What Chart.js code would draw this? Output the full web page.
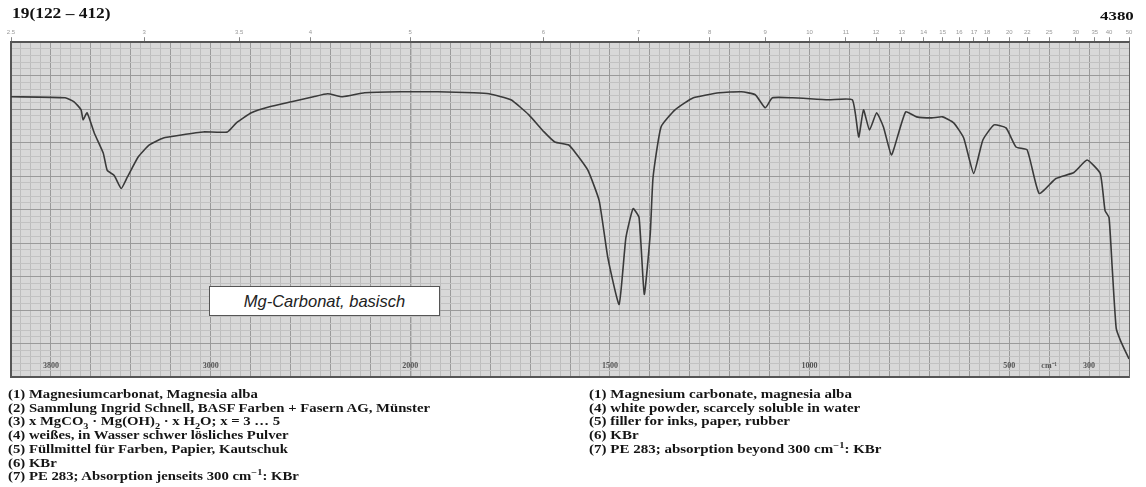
<!DOCTYPE html>
<html>
<head>
<meta charset="utf-8">
<script src="https://cdn.jsdelivr.net/npm/chart.js@4/dist/chart.umd.min.js"></script>
<style>
  html, body { margin:0; padding:0; background:#fff; width:1146px; height:487px; overflow:hidden; }
  #wrap { position:relative; width:1146px; height:487px; }
  #c { position:absolute; left:0; top:0; }
  .hdr { position:absolute; font-family:"Liberation Serif", serif; font-weight:bold; color:#111; transform-origin:0 0; white-space:nowrap; }
  .desc { position:absolute; font-family:"Liberation Serif", serif; font-weight:bold; font-size:12.5px; line-height:13.7px; color:#151515; white-space:nowrap; transform-origin:0 0; transform:scaleX(1.18); }
  .desc sub, .desc sup { font-size:70%; line-height:0; }
  #label { position:absolute; left:209px; top:286px; width:231px; height:30px; background:#fff; border:1px solid #555; box-sizing:border-box;
           font-family:"Liberation Sans", sans-serif; font-style:italic; font-size:16.5px; color:#222; text-align:center; line-height:28px; }
</style>
</head>
<body>
<div id="wrap">
  <canvas id="c" width="1146" height="487"></canvas>
  <div class="hdr" style="left:12px; top:5px; font-size:14.5px; transform:scaleX(1.2);">19(122 – 412)</div>
  <div class="hdr" style="left:1100px; top:8px; font-size:13.5px; transform:scaleX(1.25);">4380</div>
  <div id="label">Mg-Carbonat, basisch</div>
  <div class="desc" style="left:8px; top:388px;">
    (1) Magnesiumcarbonat, Magnesia alba<br>
    (2) Sammlung Ingrid Schnell, BASF Farben + Fasern AG, Münster<br>
    (3) x MgCO<sub>3</sub> · Mg(OH)<sub>2</sub> · x H<sub>2</sub>O; x = 3 … 5<br>
    (4) weißes, in Wasser schwer lösliches Pulver<br>
    (5) Füllmittel für Farben, Papier, Kautschuk<br>
    (6) KBr<br>
    (7) PE 283; Absorption jenseits 300 cm<sup>−1</sup>: KBr
  </div>
  <div class="desc" style="left:589px; top:388px; transform:scaleX(1.2);">
    (1) Magnesium carbonate, magnesia alba<br>
    (4) white powder, scarcely soluble in water<br>
    (5) filler for inks, paper, rubber<br>
    (6) KBr<br>
    (7) PE 283; absorption beyond 300 cm<sup>−1</sup>: KBr
  </div>
</div>
<script>
// ---- data (wavenumber cm^-1, % transmittance) ----
const wavenumbers = [4000,3729,3684,3649,3639,3619,3583,3538,3518,3483,3448,3418,3363,3307,3237,3147,3037,2916,2871,2796,2705,2595,2485,2414,2339,2229,2048,
  1931,1841,1803,1748,1703,1665,1638,1603,1582,1555,1527,1505,1477,1460,1442,1427,1414,1399,1392,1372,1337,1291,1226,1171,1136,1111,1093,1043,953,893,877,865,850,832,815,795,777,759,732,694,667,639,614,589,566,538,508,483,455,425,383,338,305,272,260,250,242,232,220,200];
const transmittance = [83.7,83.4,82.2,79.8,76.8,78.9,72.9,66.9,61.7,60.2,56.3,59.6,65.7,69.3,71.4,72.3,73.2,73.2,75.9,78.9,80.7,82.2,83.7,84.6,83.7,84.9,85.2,
  85.2,84.9,84.6,82.8,78.3,73.2,70.2,69.3,66.3,61.7,52.7,35.5,21.7,41.6,50.3,47.6,24.7,42.8,59.6,74.7,79.8,83.4,84.9,85.2,84.3,80.4,83.4,83.4,82.8,82.8,71.7,79.8,73.8,78.9,74.7,66.3,72.9,79.2,77.7,77.4,77.7,75.9,71.4,60.8,70.8,75.3,74.4,68.7,67.8,54.8,59.3,61.1,64.8,60.8,49.7,47.6,32.5,14.5,10.5,5.4];
// bottom axis labels
const bottomTickValues = [3800,3000,2000,1500,1000,500,400,300];
const bottomTickLabels = ['3800','3000','2000','1500','1000','500','cm⁻¹','300'];
// top axis: wavelength in micrometres
const micronTicks = [2.5,3,3.5,4,5,6,7,8,9,10,11,12,13,14,15,16,17,18,20,22,25,30,35,40,50];

// ---- custom piecewise wavenumber scale (scale change at 2000 cm^-1) ----
const SPAN = (4000-2000) + 2*(2000-200);
function wnToDecimal(v){ return v >= 2000 ? (4000 - v)/SPAN : (2000 + 2*(2000 - v))/SPAN; }
class IRScale extends Chart.LinearScale {
  getPixelForValue(v){ return this.getPixelForDecimal(wnToDecimal(v)); }
  getValueForPixel(p){ const d = this.getDecimalForPixel(p)*SPAN; return d <= 2000 ? 4000 - d : 2000 - (d-2000)/2; }
  buildTicks(){ return (this.options.tickValues || []).map(v => ({value:v})); }
}
IRScale.id = 'irscale';
IRScale.defaults = Chart.LinearScale.defaults;
Chart.register(IRScale);

const gridValues = [];
for (let v = 4000; v >= 2000; v -= 50) gridValues.push(v);
for (let v = 1975; v >= 200; v -= 25) gridValues.push(v);
function isMajor(v){ return v >= 2000 ? v % 200 === 0 : v % 100 === 0; }

const bgPlugin = {
  id:'bg',
  beforeDraw(chart){
    const {ctx, chartArea:a} = chart;
    ctx.save(); ctx.fillStyle = '#d8d8d8'; ctx.fillRect(a.left, a.top, a.right-a.left, a.bottom-a.top); ctx.restore();
  }
};

new Chart(document.getElementById('c'), {
  type:'line',
  data:{ datasets:[{
    data: wavenumbers.map((w,i)=>({x:w, y:transmittance[i]})),
    borderColor:'#3a3a3a', borderWidth:1.6, pointRadius:0, tension:0.15, fill:false
  }]},
  options:{
    responsive:false, animation:false, devicePixelRatio:1,
    layout:{ padding:{ left:11, right:17, top:28, bottom:110 } },
    plugins:{ legend:{display:false}, tooltip:{enabled:false} },
    scales:{
      x:{ type:'irscale', position:'bottom', min:200, max:4000, tickValues:gridValues,
          grid:{ drawTicks:false, color:c => isMajor(c.tick.value) ? '#9a9a9a' : '#bdbdbd', lineWidth:c => c.tick.value===2000 ? 1.4 : 1 },
          border:{ color:'#555', width:2 },
          ticks:{ autoSkip:false, maxRotation:0, padding:-16, color:'#555', font:{family:'Liberation Serif', size:8, weight:'bold'},
                  callback:(v)=>{ const i = bottomTickValues.indexOf(v); return i>=0 ? bottomTickLabels[i] : ''; } } },
      xTop:{ type:'irscale', position:'top', min:200, max:4000, tickValues: micronTicks.map(m=>10000/m),
          grid:{ drawOnChartArea:false, drawTicks:true, tickLength:5, color:'#888' },
          border:{ color:'#555', width:2 },
          ticks:{ autoSkip:false, maxRotation:0, padding:1, color:'#999', font:{family:'Liberation Sans', size:6},
                  callback:(v)=>{ const m = Math.round(10000/v*10)/10; return String(m); } } },
      y:{ type:'linear', min:0, max:100,
          grid:{ drawTicks:false, color:c => c.tick.value % 10 === 0 ? '#9a9a9a' : '#c2c2c2' },
          border:{ color:'#555', width:2 },
          ticks:{ display:false, stepSize:2 } },
      yRight:{ type:'linear', position:'right', min:0, max:100, display:true,
          grid:{ drawOnChartArea:false, drawTicks:false }, border:{ color:'#666', width:1 }, ticks:{ display:false } }
    }
  },
  plugins:[bgPlugin]
});
</script>
</body>
</html>
